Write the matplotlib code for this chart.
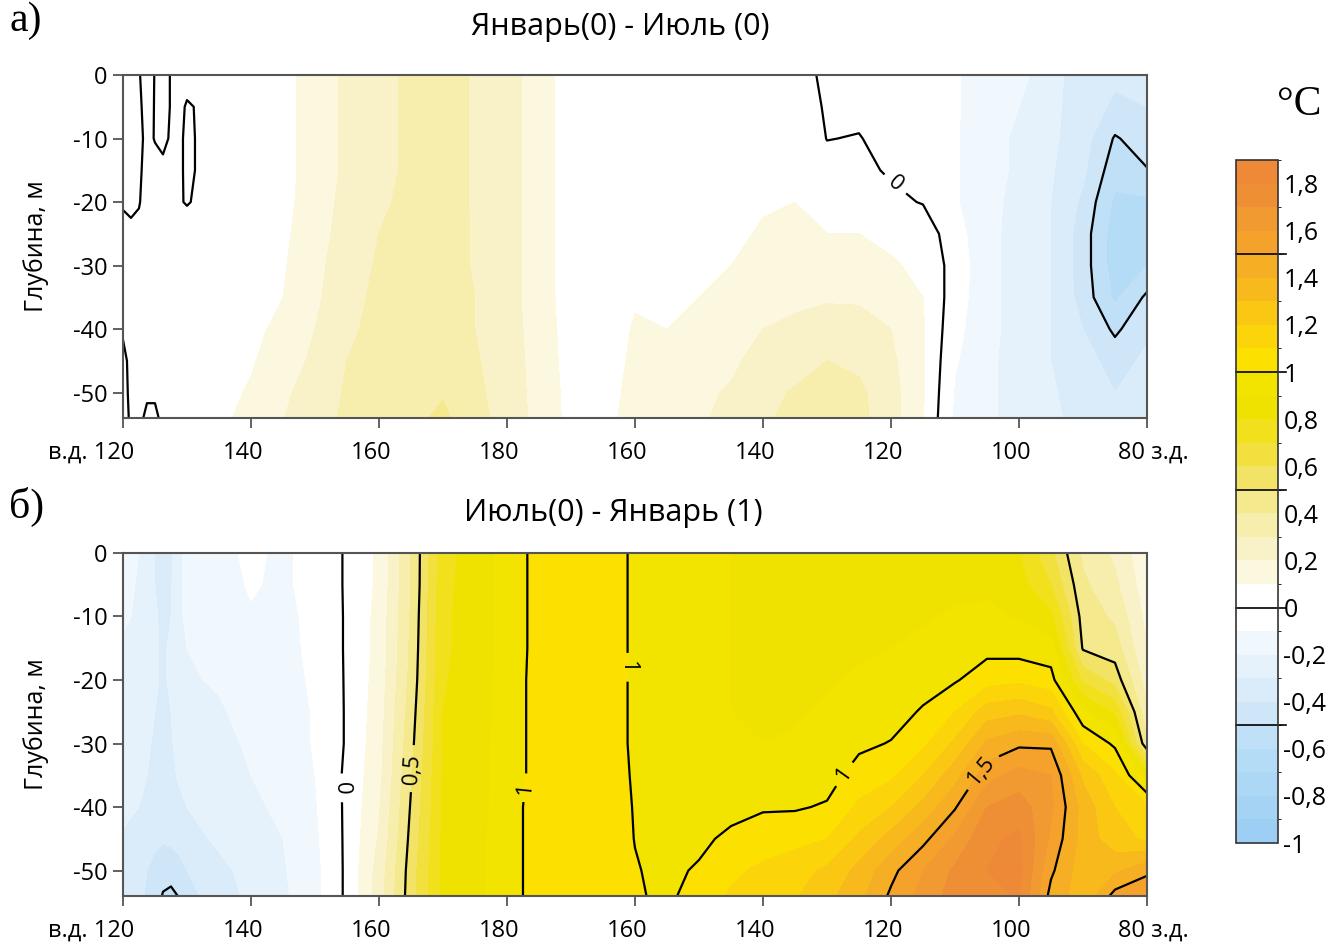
import numpy as np
import matplotlib
matplotlib.use("Agg")
import matplotlib.pyplot as plt
from matplotlib.colors import ListedColormap, BoundaryNorm

plt.rcParams["font.family"] = ["Open Sans", "DejaVu Sans"]
plt.rcParams["axes.unicode_minus"] = False

# Долгота в градусах в.д. (200 = 160 з.д., 280 = 80 з.д.) и глубина, м
lon = [120, 121.25, 122.5, 123.75, 125, 126.25, 127.5, 128.75, 130,
       135, 140, 145, 150, 155, 160, 165, 170, 175, 180, 185, 190, 195,
       200, 205, 210, 215, 220, 225, 230, 235, 240, 245, 250, 255, 260,
       265, 270, 275, 280]
depth = [0, 5, 10, 15, 20, 25, 30, 35, 40, 45, 50, 55]

# а) Январь(0) - Июль(0): по одному столбцу на долготу, сверху вниз
jan_jul = [
    [-0.04, -0.04, -0.04, -0.04, -0.01, 0.03, 0.03, 0.03, 0.01, -0.02, -0.03, -0.03],
    [-0.03, -0.03, -0.03, -0.03, -0.02, 0.02, 0.03, 0.03, 0.03, 0.02, 0.02, 0.01],
    [-0.005, -0.01, -0.015, -0.01, -0.005, 0.02, 0.03, 0.03, 0.03, 0.03, 0.02, 0.01],
    [0.03, 0.02, 0.015, 0.02, 0.03, 0.03, 0.03, 0.03, 0.03, 0.03, 0.01, -0.02],
    [-0.003, -0.003, -0.003, 0.02, 0.03, 0.03, 0.03, 0.03, 0.03, 0.03, 0.01, -0.02],
    [-0.03, -0.03, -0.02, 0.02, 0.03, 0.03, 0.03, 0.03, 0.03, 0.03, 0.02, 0.01],
    [0.005, 0.005, 0.01, 0.03, 0.03, 0.03, 0.03, 0.03, 0.03, 0.03, 0.03, 0.03],
    [0.03, 0.02, 0.01, 0.01, 0.005, 0.03, 0.03, 0.03, 0.03, 0.03, 0.03, 0.03],
    [0.03, -0.008, -0.01, -0.01, -0.004, 0.03, 0.03, 0.03, 0.03, 0.03, 0.04, 0.05],
    [0.03, 0.03, 0.03, 0.03, 0.03, 0.03, 0.04, 0.04, 0.05, 0.06, 0.07, 0.09],
    [0.05, 0.05, 0.05, 0.05, 0.05, 0.05, 0.06, 0.07, 0.08, 0.09, 0.11, 0.12],
    [0.07, 0.07, 0.07, 0.07, 0.07, 0.08, 0.09, 0.1, 0.12, 0.15, 0.18, 0.2],
    [0.14, 0.14, 0.14, 0.14, 0.15, 0.16, 0.17, 0.18, 0.2, 0.22, 0.25, 0.26],
    [0.22, 0.22, 0.22, 0.22, 0.23, 0.24, 0.26, 0.27, 0.28, 0.3, 0.31, 0.32],
    [0.27, 0.27, 0.27, 0.27, 0.28, 0.3, 0.31, 0.32, 0.33, 0.34, 0.35, 0.36],
    [0.32, 0.32, 0.32, 0.32, 0.33, 0.34, 0.35, 0.35, 0.36, 0.37, 0.38, 0.38],
    [0.34, 0.34, 0.34, 0.34, 0.34, 0.35, 0.35, 0.36, 0.37, 0.38, 0.39, 0.43],
    [0.29, 0.29, 0.29, 0.29, 0.29, 0.29, 0.29, 0.3, 0.3, 0.31, 0.32, 0.34],
    [0.24, 0.24, 0.24, 0.24, 0.24, 0.24, 0.24, 0.24, 0.25, 0.25, 0.26, 0.26],
    [0.15, 0.15, 0.15, 0.15, 0.15, 0.15, 0.15, 0.15, 0.15, 0.16, 0.16, 0.17],
    [0.05, 0.05, 0.05, 0.05, 0.05, 0.05, 0.05, 0.05, 0.06, 0.06, 0.07, 0.07],
    [0.02, 0.02, 0.02, 0.02, 0.02, 0.02, 0.03, 0.03, 0.04, 0.05, 0.06, 0.07],
    [0.02, 0.02, 0.03, 0.04, 0.05, 0.06, 0.07, 0.09, 0.11, 0.12, 0.13, 0.14],
    [0.02, 0.03, 0.03, 0.04, 0.05, 0.06, 0.07, 0.08, 0.1, 0.12, 0.14, 0.15],
    [0.03, 0.03, 0.04, 0.05, 0.06, 0.07, 0.09, 0.1, 0.13, 0.16, 0.18, 0.19],
    [0.03, 0.04, 0.05, 0.06, 0.07, 0.08, 0.1, 0.12, 0.15, 0.18, 0.21, 0.23],
    [0.04, 0.05, 0.06, 0.07, 0.09, 0.11, 0.13, 0.16, 0.2, 0.24, 0.27, 0.29],
    [0.04, 0.05, 0.07, 0.08, 0.1, 0.12, 0.15, 0.18, 0.22, 0.26, 0.31, 0.33],
    [-0.02, -0.01, -0.002, 0.03, 0.07, 0.1, 0.14, 0.19, 0.24, 0.3, 0.34, 0.36],
    [-0.04, -0.02, 0.004, 0.02, 0.06, 0.1, 0.14, 0.19, 0.23, 0.28, 0.32, 0.33],
    [-0.05, -0.04, -0.03, -0.01, 0.02, 0.08, 0.11, 0.16, 0.2, 0.22, 0.24, 0.24],
    [-0.06, -0.05, -0.04, -0.03, -0.005, 0.06, 0.08, 0.1, 0.11, 0.11, 0.11, 0.1],
    [-0.09, -0.09, -0.09, -0.09, -0.09, -0.06, -0.04, -0.05, -0.07, -0.09, -0.11, -0.12],
    [-0.15, -0.15, -0.16, -0.16, -0.17, -0.17, -0.17, -0.17, -0.17, -0.18, -0.18, -0.18],
    [-0.16, -0.2, -0.22, -0.22, -0.23, -0.24, -0.24, -0.24, -0.24, -0.24, -0.24, -0.24],
    [-0.28, -0.28, -0.28, -0.29, -0.3, -0.3, -0.3, -0.3, -0.3, -0.3, -0.29, -0.28],
    [-0.33, -0.34, -0.36, -0.38, -0.42, -0.45, -0.45, -0.44, -0.4, -0.36, -0.34, -0.33],
    [-0.38, -0.42, -0.51, -0.56, -0.62, -0.65, -0.65, -0.62, -0.52, -0.44, -0.4, -0.38],
    [-0.36, -0.4, -0.45, -0.505, -0.62, -0.7, -0.6, -0.48, -0.42, -0.38, -0.36, -0.35],
]

# б) Июль(0) - Январь(1)
jul_jan = [
    [-0.15, -0.17, -0.19, -0.21, -0.22, -0.23, -0.24, -0.26, -0.28, -0.31, -0.33, -0.34],
    [-0.18, -0.19, -0.2, -0.22, -0.23, -0.24, -0.25, -0.27, -0.29, -0.32, -0.35, -0.36],
    [-0.2, -0.21, -0.22, -0.23, -0.24, -0.25, -0.26, -0.28, -0.3, -0.34, -0.37, -0.38],
    [-0.24, -0.24, -0.25, -0.26, -0.27, -0.28, -0.29, -0.3, -0.32, -0.36, -0.4, -0.42],
    [-0.3, -0.3, -0.29, -0.29, -0.29, -0.3, -0.31, -0.32, -0.34, -0.38, -0.43, -0.46],
    [-0.34, -0.33, -0.32, -0.31, -0.31, -0.31, -0.32, -0.33, -0.35, -0.39, -0.46, -0.52],
    [-0.32, -0.31, -0.3, -0.29, -0.29, -0.3, -0.31, -0.32, -0.34, -0.38, -0.46, -0.54],
    [-0.22, -0.22, -0.22, -0.23, -0.24, -0.25, -0.27, -0.29, -0.32, -0.36, -0.44, -0.51],
    [-0.17, -0.17, -0.18, -0.2, -0.21, -0.22, -0.24, -0.26, -0.3, -0.34, -0.4, -0.44],
    [-0.13, -0.14, -0.15, -0.17, -0.19, -0.21, -0.22, -0.23, -0.25, -0.28, -0.33, -0.36],
    [-0.08, -0.09, -0.11, -0.13, -0.15, -0.17, -0.19, -0.2, -0.21, -0.23, -0.26, -0.28],
    [-0.12, -0.12, -0.13, -0.14, -0.15, -0.16, -0.17, -0.18, -0.19, -0.2, -0.21, -0.22],
    [-0.06, -0.06, -0.07, -0.07, -0.08, -0.09, -0.09, -0.1, -0.11, -0.12, -0.13, -0.13],
    [0.01, 0.01, 0.01, 0.01, 0.01, 0.01, 0.01, 0.02, 0.02, 0.02, 0.02, 0.02],
    [0.12, 0.12, 0.13, 0.13, 0.14, 0.15, 0.16, 0.17, 0.19, 0.21, 0.24, 0.25],
    [0.4, 0.4, 0.41, 0.42, 0.43, 0.45, 0.47, 0.49, 0.51, 0.53, 0.55, 0.56],
    [0.76, 0.77, 0.78, 0.78, 0.79, 0.8, 0.8, 0.81, 0.81, 0.82, 0.82, 0.82],
    [0.85, 0.85, 0.85, 0.85, 0.85, 0.85, 0.86, 0.86, 0.86, 0.87, 0.87, 0.87],
    [0.93, 0.93, 0.93, 0.93, 0.94, 0.94, 0.94, 0.94, 0.95, 0.95, 0.95, 0.95],
    [1.04, 1.04, 1.04, 1.04, 1.04, 1.04, 1.04, 1.04, 1.05, 1.05, 1.05, 1.05],
    [1.07, 1.07, 1.07, 1.07, 1.07, 1.07, 1.07, 1.07, 1.07, 1.07, 1.07, 1.07],
    [1.05, 1.05, 1.05, 1.05, 1.05, 1.05, 1.05, 1.05, 1.05, 1.05, 1.05, 1.05],
    [0.985, 0.985, 0.985, 0.985, 0.985, 0.985, 0.985, 0.99, 0.995, 0.998, 1.005, 1.01],
    [0.95, 0.95, 0.95, 0.95, 0.95, 0.95, 0.95, 0.96, 0.96, 0.97, 0.98, 0.985],
    [0.93, 0.93, 0.93, 0.93, 0.93, 0.93, 0.94, 0.95, 0.96, 0.98, 1.01, 1.05],
    [0.9, 0.9, 0.9, 0.9, 0.9, 0.9, 0.91, 0.93, 0.97, 1.02, 1.08, 1.12],
    [0.88, 0.88, 0.88, 0.88, 0.88, 0.89, 0.9, 0.93, 0.99, 1.05, 1.12, 1.16],
    [0.87, 0.87, 0.87, 0.87, 0.88, 0.89, 0.91, 0.94, 0.99, 1.07, 1.16, 1.2],
    [0.87, 0.87, 0.87, 0.88, 0.89, 0.91, 0.93, 0.96, 1.01, 1.1, 1.22, 1.28],
    [0.87, 0.87, 0.88, 0.89, 0.91, 0.94, 0.98, 1.04, 1.12, 1.22, 1.33, 1.38],
    [0.86, 0.87, 0.88, 0.9, 0.93, 0.96, 1.005, 1.08, 1.2, 1.34, 1.47, 1.53],
    [0.86, 0.87, 0.89, 0.92, 0.96, 1.01, 1.08, 1.2, 1.33, 1.47, 1.6, 1.64],
    [0.86, 0.88, 0.91, 0.95, 0.99, 1.1, 1.22, 1.36, 1.49, 1.62, 1.72, 1.75],
    [0.85, 0.88, 0.92, 0.97, 1.06, 1.25, 1.42, 1.56, 1.7, 1.78, 1.8, 1.78],
    [0.8, 0.84, 0.89, 0.96, 1.08, 1.28, 1.48, 1.64, 1.75, 1.82, 1.83, 1.8],
    [0.62, 0.7, 0.82, 0.94, 1.04, 1.22, 1.48, 1.6, 1.62, 1.58, 1.52, 1.45],
    [0.38, 0.42, 0.46, 0.49, 0.68, 0.92, 1.1, 1.28, 1.36, 1.36, 1.34, 1.35],
    [0.28, 0.32, 0.38, 0.45, 0.56, 0.78, 0.98, 1.12, 1.2, 1.24, 1.38, 1.58],
    [0.12, 0.14, 0.17, 0.2, 0.25, 0.32, 0.42, 0.85, 1.12, 1.18, 1.48, 1.6],
]

x_ticks = [120, 140, 160, 180, 200, 220, 240, 260, 280]
x_labels = ["в.д. 120", "140", "160", "180", "160", "140", "120", "100", "80 з.д."]
y_ticks = [0, -10, -20, -30, -40, -50]
line_levels = [-0.5, 0, 0.5, 1, 1.5]

# Шкала: от -1 до 1,9 через 0,1
levels = np.round(np.arange(-1.0, 1.91, 0.1), 1)
colors = [
    "#9CCFF3", "#A4D3F4", "#ACD7F5", "#B5DCF6", "#BFE0F6",
    "#CEE6F8", "#DAECF9", "#E5F1FB", "#F0F7FD", "#FFFFFF",
    "#FFFFFF", "#FCF8E0", "#F9F2C8", "#F7EEAE", "#F4E98C",
    "#F2E266", "#F1E03E", "#F0E11C", "#EFE200", "#F3E400",
    "#FCE100", "#FBD50A", "#FAC813", "#F8B91C", "#F6AE24",
    "#F4A22C", "#F19A32", "#EF8F35", "#EE8A37",
]
cmap = ListedColormap(colors)
norm = BoundaryNorm(levels, cmap.N)


def fmt(v):
    v = round(float(v), 1) + 0.0
    return f"{v:g}".replace(".", ",")


def draw_panel(ax, data, label_pos):
    z = np.array(data).T
    yy = -np.array(depth)
    cf = ax.contourf(lon, yy, z, levels=levels, cmap=cmap, norm=norm)
    cs = ax.contour(lon, yy, z, levels=line_levels, colors="k",
                    linewidths=1.6, linestyles="solid")
    ax.set_xlim(120, 280)
    ax.set_ylim(-54, 0)

    for side in ax.spines.values():
        side.set_color("#555555")
        side.set_linewidth(1.5)
    ax.tick_params(direction="out", length=7, width=1.3, color="#555555",
                   labelsize=17, pad=4)
    ax.set_yticks(y_ticks)
    ax.set_yticklabels([str(t) for t in y_ticks])
    ax.set_xticks(x_ticks)
    ax.tick_params(axis="x", labelbottom=False)

    # подписи долготы со сдвигом влево
    for i, (t, s) in enumerate(zip(x_ticks, x_labels)):
        if i == 0:
            dx, ha = 8, "right"
        elif i == len(x_ticks) - 1:
            dx, ha = -21, "left"
        else:
            dx, ha = -6, "center"
        ax.annotate(s, xy=(t, 0), xycoords=("data", "axes fraction"),
                    xytext=(dx, -25), textcoords="offset points",
                    ha=ha, va="center", fontsize=17)

    ax.set_ylabel("Глубина, м", fontsize=18)
    ax.yaxis.set_label_coords(-0.072, 0.5)

    ax.clabel(cs, manual=label_pos, fmt=fmt, fontsize=16, inline=True,
              inline_spacing=8)
    return cf


fig = plt.figure(figsize=(13.44, 9.47), dpi=100)
ax_a = fig.add_axes([0.0915, 0.5586, 0.7619, 0.3622])
ax_b = fig.add_axes([0.0915, 0.0539, 0.7619, 0.3622])

draw_panel(ax_a, jan_jul, [(240.8, -17)])
cf = draw_panel(ax_b, jul_jan, [(153.1, -37), (166, -34), (183.2, -37),
                                (199.1, -18), (231.6, -34), (253.8, -34)])

fig.text(0.4613, 0.9715, "Январь(0) - Июль (0)", ha="center", va="center",
         fontsize=22)
fig.text(0.4561, 0.4583, "Июль(0) - Январь (1)", ha="center", va="center",
         fontsize=22)
fig.text(0.007, 0.978, "а)", ha="left", va="center", fontsize=30,
         family="Liberation Serif")
fig.text(0.007, 0.465, "б)", ha="left", va="center", fontsize=30,
         family="Liberation Serif")
fig.text(0.967, 0.889, "°C", ha="center", va="center", fontsize=30,
         family="Liberation Serif")

# цветовая шкала
cax = fig.add_axes([0.9196, 0.1098, 0.03125, 0.7212])
cb = fig.colorbar(cf, cax=cax)
cb_ticks = np.round(np.arange(-1.0, 1.81, 0.2), 1)
cb.set_ticks(cb_ticks)
cb.set_ticklabels([fmt(t) for t in cb_ticks])
cb.ax.tick_params(length=0, labelsize=18, pad=4)
cb.outline.set_edgecolor("#333333")
cb.outline.set_linewidth(1.2)
for v in line_levels:
    cax.axhline(v, 0, 1.2, color="k", linewidth=1.2, clip_on=False)

fig.savefig("out.png", dpi=100)
